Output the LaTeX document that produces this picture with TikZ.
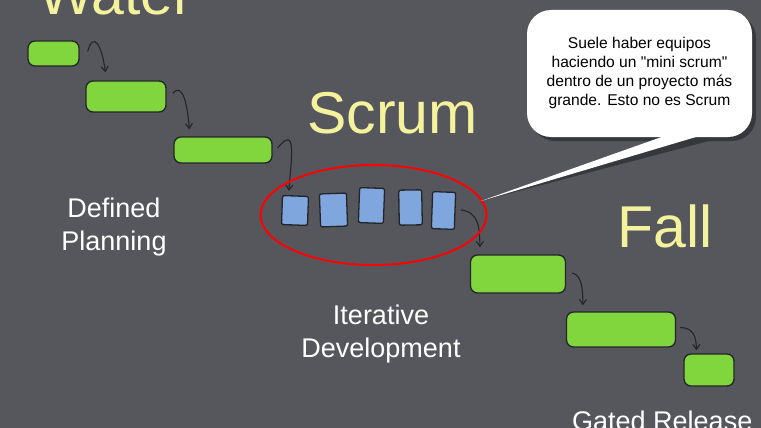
\documentclass[tikz,border=0pt]{standalone}
\usepackage{fontspec}
\setmainfont{Liberation Sans}
\usetikzlibrary{arrows.meta,calc,shapes.geometric}
\definecolor{bgc}{HTML}{56575D}
\definecolor{grn}{HTML}{80D63C}
\definecolor{blu}{HTML}{7FA7DD}
\definecolor{ylw}{HTML}{F4F29C}
\definecolor{ink}{HTML}{23252A}
\tikzset{
  gbox/.style={draw=ink, fill=grn, line width=1.3pt, rounded corners=7pt, inner sep=0pt},
  bbox/.style={draw=ink, fill=blu, line width=1.3pt, rounded corners=2pt, inner sep=0pt},
  conn/.style={draw=ink, line width=1.1pt, -{Straight Barb[length=5pt,width=7pt]}},
  big/.style={text=ylw, font=\fontsize{59}{59}\selectfont, inner sep=0pt, anchor=base west},
  lbl/.style={text=white, font=\fontsize{27}{33}\selectfont, align=center, inner sep=0pt},
}
\begin{document}
\begin{tikzpicture}[x=1pt,y=-1pt]
\useasboundingbox (0,0) rectangle (761,428);
\fill[bgc] (0,0) rectangle (761,428);

% titles
\node[big] (water) at (38,15) {Water};
\node[big] (scrum) at (307,133) {Scrum};
\node[big] (fall) at (617,247) {Fall};

% labels
\node[lbl] (defp) at (114,227) {Defined\\Planning};
\node[lbl] (itdev) at (381,334) {Iterative\\Development};
\node[lbl, anchor=north west] (gated) at (572,411) {Gated Release};

% green boxes
\node[gbox, minimum width=51, minimum height=25] (g1) at (53.5,53.5) {};
\node[gbox, minimum width=80, minimum height=31] (g2) at (126,96.5) {};
\node[gbox, minimum width=98, minimum height=26] (g3) at (223,150) {};
\node[gbox, minimum width=95, minimum height=38] (g4) at (518,274) {};
\node[gbox, minimum width=109, minimum height=35] (g5) at (621,329.5) {};
\node[gbox, minimum width=50, minimum height=32] (g6) at (709,370) {};

% blue boxes
\node[bbox, minimum width=26, minimum height=29, rotate=-2] (b1) at (295,210.5) {};
\node[bbox, minimum width=27, minimum height=33, rotate=2] (b2) at (333.5,210) {};
\node[bbox, minimum width=25, minimum height=35, rotate=-2] (b3) at (371.5,205.5) {};
\node[bbox, minimum width=23, minimum height=35, rotate=1] (b4) at (410.5,207.5) {};
\node[bbox, minimum width=23, minimum height=37, rotate=-2] (b5) at (443.5,210.5) {};

% connectors
\draw[conn] ($(g1.east)+(8,-2)$) .. controls +(6,-22) and +(-3,-25) .. ($(g2.north west)+(20,-8)$);
\draw[conn] ($(g2.east)+(6,-3)$) .. controls +(10,-12) and +(-2,-25) .. ($(g3.north west)+(16,-7)$);
\draw[conn] ($(g3.east)+(5,-2)$) .. controls +(20,-25) and +(2,-30) .. ($(b1.north west)+(7,-4)$);
\draw[conn] ($(b5.east)+(5,-1)$) .. controls +(18,2) and +(0,-20) .. ($(g4.north west)+(10,-7)$);
\draw[conn] ($(g4.east)+(6,-1)$) .. controls +(10,2) and +(0,-15) .. ($(g5.north west)+(17,-6)$);
\draw[conn] ($(g5.east)+(4,-2)$) .. controls +(14,0) and +(0,-12) .. ($(g6.north west)+(13,-3)$);

% red ellipse
\node[draw=red, line width=2pt, ellipse, minimum width=226, minimum height=100, inner sep=0pt] (ell) at (373.5,215) {};

% callout
\coordinate (tip) at (481,201);
\fill[black, opacity=0.35] (tip) -- (674,141) -- (709,141) -- cycle;
\fill[black, opacity=0.35, rounded corners=24pt] (531,14) rectangle (756,141);
\fill[white] (tip) -- (670,134) -- (706,134) -- cycle;
\node[fill=white, rounded corners=24pt, minimum width=225, minimum height=127, inner sep=0pt] (call) at (639.5,73.5) {};
\node[font=\fontsize{15.6}{19}\selectfont, align=center, text=black, inner sep=0pt] (calltxt) at ([yshift=1pt]call.center) {Suele haber equipos\\haciendo un \textquotedbl mini scrum\textquotedbl\\dentro de un proyecto más\\grande. Esto no es Scrum};
\end{tikzpicture}
\end{document}
